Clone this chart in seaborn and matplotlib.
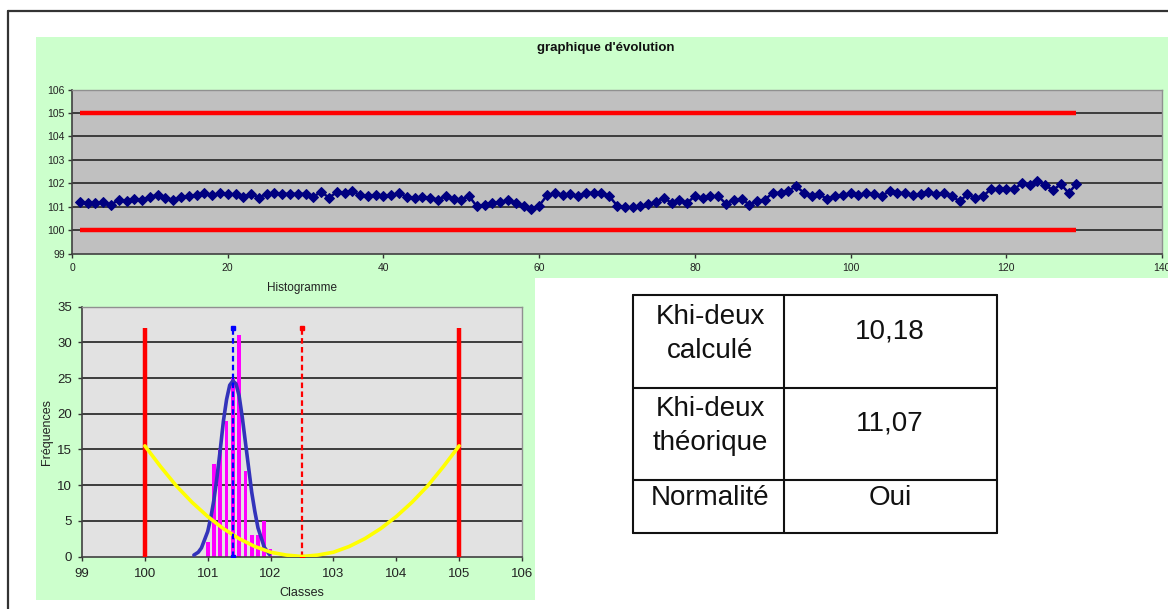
import matplotlib
matplotlib.use("Agg")
import matplotlib.pyplot as plt
import seaborn as sns
import pandas as pd
from matplotlib.patches import Rectangle
from matplotlib.lines import Line2D

# ---------------- data ----------------
measures = [
    101.19, 101.16, 101.16, 101.19, 101.09, 101.28, 101.23, 101.33, 101.30, 101.41,
    101.51, 101.38, 101.28, 101.41, 101.45, 101.48, 101.57, 101.48, 101.57, 101.55,
    101.52, 101.42, 101.55, 101.38, 101.55, 101.59, 101.55, 101.55, 101.55, 101.55,
    101.42, 101.64, 101.38, 101.62, 101.59, 101.67, 101.48, 101.45, 101.48, 101.45,
    101.48, 101.59, 101.41, 101.38, 101.41, 101.38, 101.30, 101.45, 101.33, 101.30,
    101.45, 101.01, 101.09, 101.16, 101.19, 101.28, 101.16, 101.01, 100.90, 101.04,
    101.48, 101.57, 101.48, 101.55, 101.45, 101.59, 101.59, 101.59, 101.45, 101.05,
    100.97, 100.97, 101.01, 101.12, 101.19, 101.38, 101.16, 101.28, 101.16, 101.45,
    101.38, 101.45, 101.45, 101.12, 101.30, 101.33, 101.09, 101.23, 101.30, 101.59,
    101.59, 101.67, 101.88, 101.59, 101.45, 101.52, 101.33, 101.45, 101.48, 101.59,
    101.48, 101.59, 101.52, 101.45, 101.67, 101.59, 101.59, 101.48, 101.52, 101.62,
    101.55, 101.59, 101.45, 101.23, 101.52, 101.38, 101.45, 101.74, 101.77, 101.77,
    101.74, 102.00, 101.91, 102.10, 101.91, 101.71, 101.96, 101.59, 101.96,
]
sample_index = list(range(1, len(measures) + 1))

lower_limit = 100
upper_limit = 105
tolerance_centre = 102.5
process_mean = 101.4
vline_top = 32

classes = [101.0, 101.1, 101.2, 101.3, 101.4, 101.5, 101.6, 101.7, 101.8, 101.9, 102.0]
frequencies = [2, 13, 15, 19, 25, 31, 12, 3, 3, 5, 1]

normal_x = [100.78, 100.85, 100.9, 101.0, 101.05, 101.1, 101.15, 101.2, 101.25, 101.3,
            101.35, 101.4, 101.45, 101.5, 101.55, 101.6, 101.65, 101.7, 101.75, 101.8,
            101.9, 101.98]
normal_y = [0.2, 0.6, 1.2, 3.5, 5.5, 8.0, 11.3, 15.0, 19.0, 22.0,
            24.0, 24.6, 24.2, 22.5, 19.5, 16.0, 12.5, 9.0, 6.3, 4.0,
            1.3, 0.3]

parab_x = [100.0, 100.25, 100.5, 100.75, 101.0, 101.25, 101.5, 101.75, 102.0, 102.25, 102.5,
           102.75, 103.0, 103.25, 103.5, 103.75, 104.0, 104.25, 104.5, 104.75, 105.0]
parab_y = [15.5, 12.6, 9.9, 7.6, 5.6, 3.9, 2.5, 1.4, 0.6, 0.2, 0.0,
           0.2, 0.6, 1.4, 2.5, 3.9, 5.6, 7.6, 9.9, 12.6, 15.5]

table_labels = ["Khi-deux\ncalculé", "Khi-deux\nthéorique", "Normalité"]
table_values = ["10,18", "11,07", "Oui"]

top_title = "graphique d'évolution"
hist_title = "Histogramme"
hist_xlabel = "Classes"
hist_ylabel = "Fréquences"

# ---------------- style ----------------
sns.set_theme(style="white")
plt.rcParams['font.family'] = ['Liberation Sans', 'DejaVu Sans']

W, H = 1168, 609
fig = plt.figure(figsize=(W / 100, H / 100), dpi=100)
fig.patch.set_facecolor('white')


def fx(px):
    return px / W


def fy(py):
    return 1 - py / H


def frect(x0, y0, x1, y1, **kw):
    fig.patches.append(Rectangle((fx(x0), fy(y1)), fx(x1) - fx(x0), fy(y0) - fy(y1),
                                 transform=fig.transFigure, **kw))


def fline(xs, ys, **kw):
    fig.lines.append(Line2D([fx(v) for v in xs], [fy(v) for v in ys],
                            transform=fig.transFigure, **kw))


# outer frame
fline([8, 8], [11, 609], color='#333333', lw=1.6)
fline([8, 1168], [11, 11], color='#333333', lw=1.6)

# green panels (behind the axes)
frect(36, 37, 1168, 278, facecolor='#ccffcc', edgecolor='none', zorder=-5)
frect(36, 278, 535, 600, facecolor='#ccffcc', edgecolor='none', zorder=-5)

grid_col = '#3c3c3c'
tick_col = '#333333'

# ---------------- top chart ----------------
ax1 = fig.add_axes([fx(72), fy(253.5), fx(1162) - fx(72), fy(89.6) - fy(253.5)])
ax1.set_facecolor('#c0c0c0')
ax1.set_xlim(0, 140)
ax1.set_ylim(99, 106)
ax1.set_yticks(range(99, 107))
ax1.set_xticks(range(0, 141, 20))
for yv in range(100, 106):
    ax1.axhline(yv, color=grid_col, lw=1.4, zorder=1)

ax1.plot([sample_index[0], sample_index[-1]], [upper_limit, upper_limit],
         color='#ff0000', lw=3.2, zorder=2, solid_capstyle='butt')
ax1.plot([sample_index[0], sample_index[-1]], [lower_limit, lower_limit],
         color='#ff0000', lw=3.2, zorder=2, solid_capstyle='butt')

df = pd.DataFrame({"n": sample_index, "v": measures})
sns.lineplot(data=df, x="n", y="v", ax=ax1, color='#000080', lw=1.8,
             marker='D', markersize=5, markeredgecolor='#000080', zorder=3)
ax1.set_xlabel("")
ax1.set_ylabel("")
for s in ['left', 'bottom']:
    ax1.spines[s].set_color('#404040')
    ax1.spines[s].set_linewidth(1.2)
for s in ['top', 'right']:
    ax1.spines[s].set_color('#909090')
    ax1.spines[s].set_linewidth(1.0)
ax1.tick_params(axis='both', labelsize=7.5, length=3, width=1, color=tick_col,
                direction='out', pad=2, labelcolor='#222222', left=True, bottom=True)
ax1.tick_params(axis='x', pad=3.5)
fig.text(fx(606), fy(48), top_title, ha='center', va='center', fontsize=9.5,
         fontweight='bold', color='#111111')

# ---------------- histogram ----------------
ax2 = fig.add_axes([fx(82), fy(556.5), fx(522) - fx(82), fy(306.7) - fy(556.5)])
ax2.set_facecolor('#e2e2e2')
hist_df = pd.DataFrame({"classe": classes, "freq": frequencies})
sns.barplot(data=hist_df, x="classe", y="freq", native_scale=True, color='#ff00ff',
            saturation=1, width=0.6, ax=ax2, zorder=2)
for p in ax2.patches:
    p.set_edgecolor('none')
ax2.set_xlim(99, 106)
ax2.set_ylim(0, 35)
ax2.set_xticks(range(99, 107))
ax2.set_xticklabels([str(v) for v in range(99, 107)])
ax2.set_yticks(range(0, 36, 5))
for yv in range(5, 35, 5):
    ax2.axhline(yv, color=grid_col, lw=1.4, zorder=1)

sns.lineplot(x=normal_x, y=normal_y, ax=ax2, color='#3333bb', lw=2.6, zorder=4,
             sort=False, estimator=None)
sns.lineplot(x=parab_x, y=parab_y, ax=ax2, color='#ffff00', lw=2.6, zorder=5,
             sort=False, estimator=None)
ax2.vlines([lower_limit, upper_limit], 0, vline_top, color='#ff0000', lw=3.2, zorder=3)
ax2.plot([tolerance_centre, tolerance_centre], [0, vline_top], color='#ff0000', lw=1.6,
         ls=(0, (2.5, 1.5)), marker='s', markersize=3.5, zorder=3)
ax2.plot([process_mean, process_mean], [0, vline_top], color='#0000ff', lw=1.6,
         ls=(0, (2.5, 1.5)), marker='s', markersize=3.5, zorder=6)

ax2.set_xlabel(hist_xlabel, fontsize=9, color='#222222', labelpad=5)
ax2.set_ylabel(hist_ylabel, fontsize=9, color='#222222', labelpad=3)
for s in ['left', 'bottom']:
    ax2.spines[s].set_color('#404040')
    ax2.spines[s].set_linewidth(1.2)
for s in ['top', 'right']:
    ax2.spines[s].set_color('#909090')
    ax2.spines[s].set_linewidth(1.0)
ax2.tick_params(axis='both', labelsize=9.5, length=3, width=1, color=tick_col,
                direction='out', pad=4, labelcolor='#222222', left=True, bottom=True)
ax2.tick_params(axis='x', pad=5)
ax2.set_title(hist_title, fontsize=8.5, color='#222222', pad=11)

# ---------------- table ----------------
tx0, tx1, tcol = 633, 997, 784
row_edges = [295, 388, 480, 533]
for yv in row_edges:
    fline([tx0, tx1], [yv, yv], color='#111111', lw=1.5)
for xv in [tx0, tcol, tx1]:
    fline([xv, xv], [row_edges[0], row_edges[-1]], color='#111111', lw=1.5)

label_y = [334, 426, 498]
value_y = [331, 424, 498]
for lab, val, ly, vy in zip(table_labels, table_values, label_y, value_y):
    fig.text(fx(710), fy(ly), lab, ha='center', va='center', fontsize=20,
             linespacing=1.45, color='#111111')
    fig.text(fx(890), fy(vy), val, ha='center', va='center', fontsize=20,
             color='#111111')

fig.savefig("out.png", dpi=100)
